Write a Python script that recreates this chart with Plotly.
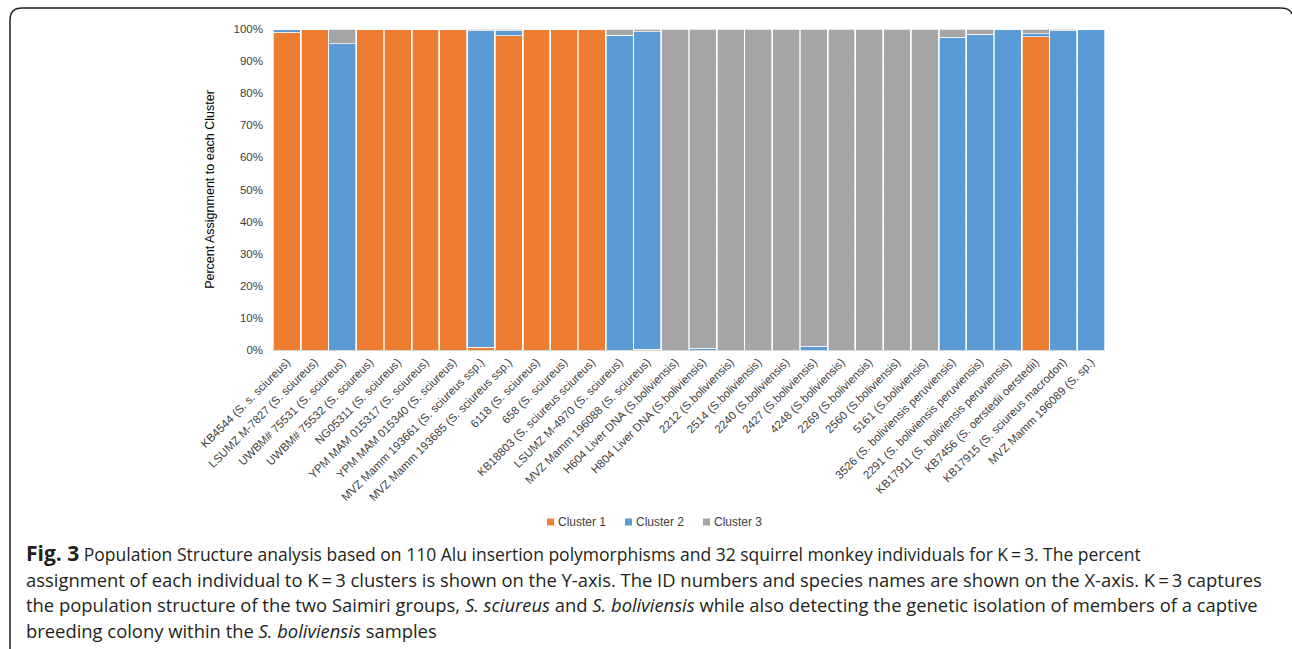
import plotly.graph_objects as go

# Sample IDs (x-axis)
samples = [
    "KB4544 (S. s. sciureus)",
    "LSUMZ M-7827 (S. sciureus)",
    "UWBM# 75531 (S. sciureus)",
    "UWBM# 75532 (S. sciureus)",
    "NG05311 (S. sciureus)",
    "YPM MAM 015317 (S. sciureus)",
    "YPM MAM 015340 (S. sciureus)",
    "MVZ Mamm 193661 (S. sciureus ssp.)",
    "MVZ Mamm 193685 (S. sciureus ssp.)",
    "6118 (S. sciureus)",
    "658 (S. sciureus)",
    "KB18803 (S. sciureus sciureus)",
    "LSUMZ M-4970 (S. sciureus)",
    "MVZ Mamm 196088 (S. sciureus)",
    "H604 Liver DNA (S.boliviensis)",
    "H804 Liver DNA (S.boliviensis)",
    "2212 (S.boliviensis)",
    "2514 (S.boliviensis)",
    "2240 (S.boliviensis)",
    "2427 (S.boliviensis)",
    "4248 (S.boliviensis)",
    "2269 (S.boliviensis)",
    "2560 (S.boliviensis)",
    "5161 (S.boliviensis)",
    "3526 (S. boliviensis peruviensis)",
    "2291 (S. boliviensis peruviensis)",
    "KB17911 (S. boliviensis peruviensis)",
    "KB7456 (S. oerstedii oerstedii)",
    "KB17915 (S. sciureus macrodon)",
    "MVZ Mamm 196089 (S. sp.)",
]

# Percent assignment to each cluster
cluster1 = [99.0, 99.8, 0.0, 100, 100, 100, 100, 0.8, 97.9, 100, 100, 99.7, 0.0, 0.3,
            0, 0, 0, 0, 0, 0, 0, 0, 0, 0, 0, 0, 0, 97.6, 0, 0]
cluster2 = [1.0, 0.2, 95.4, 0, 0, 0, 0, 98.7, 1.6, 0, 0, 0.3, 98.0, 98.9,
            0, 0.5, 0, 0, 0, 1.1, 0, 0, 0, 0, 97.4, 98.3, 100, 0.9, 99.5, 100]
cluster3 = [0, 0, 4.6, 0, 0, 0, 0, 0.5, 0.5, 0, 0, 0, 2.0, 0.8,
            100, 99.5, 100, 100, 100, 98.9, 100, 100, 100, 100, 2.6, 1.7, 0, 1.5, 0.5, 0]

series_names = ["Cluster 1", "Cluster 2", "Cluster 3"]
series_colors = ["#ED7D31", "#5B9BD5", "#A5A5A5"]

caption_lines = [
    "<b><span style=\"font-size:21px\">Fig. 3</span></b> Population Structure analysis based on 110 Alu insertion polymorphisms and 32 squirrel monkey individuals for K\u2009=\u20093. The percent",
    "assignment of each individual to K\u2009=\u20093 clusters is shown on the Y-axis. The ID numbers and species names are shown on the X-axis. K\u2009=\u20093 captures",
    "the population structure of the two Saimiri groups, <i>S. sciureus</i> and <i>S. boliviensis</i> while also detecting the genetic isolation of members of a captive",
    "breeding colony within the <i>S. boliviensis</i> samples",
]
caption_sizes = [17.5, 18.4, 18.4, 18.4]

W, H = 1292, 649
L, R, T, B = 273, 1105, 29, 350


def px_x(px):
    return (px - L) / (R - L)


def px_y(py):
    return (B - py) / (B - T)


fig = go.Figure()
for name, vals, col in zip(series_names, [cluster1, cluster2, cluster3], series_colors):
    fig.add_trace(go.Bar(
        x=samples, y=vals, name=name, showlegend=False,
        marker=dict(color=col, line=dict(color="white", width=0.7)),
    ))

font_chart = "Liberation Sans, Arial, sans-serif"

fig.update_layout(
    barmode="stack",
    bargap=0.03,
    width=W, height=H,
    margin=dict(l=L, r=W - R, t=T, b=H - B, autoexpand=False),
    paper_bgcolor="white",
    plot_bgcolor="white",
    font=dict(family=font_chart, color="#404040"),
    xaxis=dict(
        tickangle=-45, tickfont=dict(size=11.5, color="#404040"),
        showline=True, linecolor="#D9D9D9", linewidth=1,
        ticks="", showgrid=False,
    ),
    yaxis=dict(
        range=[0, 100], dtick=10, ticksuffix="%",
        tickfont=dict(size=11.5, color="#404040"),
        ticklabelstandoff=9,
        showgrid=True, gridcolor="#D9D9D9", gridwidth=1,
        zeroline=False, showline=False, ticks="",
        title=dict(text="Percent Assignment to each Cluster",
                   font=dict(size=12.5, color="#000000"), standoff=16),
    ),
)

# Legend below the axis labels: small colour squares with names
legend_x = [547, 625, 703]
legend_y = 522
for name, col, lx in zip(series_names, series_colors, legend_x):
    fig.add_shape(type="rect", xref="paper", yref="paper",
                  x0=px_x(lx), x1=px_x(lx + 7), y0=px_y(legend_y + 3.5), y1=px_y(legend_y - 3.5),
                  fillcolor=col, line=dict(width=0))
    fig.add_annotation(text=name, xref="paper", yref="paper",
                       x=px_x(lx + 9), y=px_y(legend_y), xanchor="left", yanchor="middle",
                       showarrow=False, font=dict(size=12, color="#404040", family=font_chart))

# Caption below the chart
cap_y = [553, 579, 604, 630]
for line, yy, fs in zip(caption_lines, cap_y, caption_sizes):
    fig.add_annotation(
        text=line, xref="paper", yref="paper",
        x=px_x(24), y=px_y(yy), xanchor="left", yanchor="middle",
        showarrow=False, align="left",
        font=dict(family="Open Sans, sans-serif", size=fs, color="#231F20"),
    )

# Frame around the figure: left and top edges with rounded corners
x0, y0, y1 = 10, 8, 649
r = 12
path = (
    f"M {px_x(x0)},{px_y(y1)} "
    f"L {px_x(x0)},{px_y(y0 + r)} "
    f"Q {px_x(x0)},{px_y(y0)} {px_x(x0 + r)},{px_y(y0)} "
    f"L {px_x(1280)},{px_y(y0)} "
    f"Q {px_x(1290)},{px_y(y0)} {px_x(1292)},{px_y(y0 + 6)}"
)
fig.add_shape(type="path", path=path, xref="paper", yref="paper",
              line=dict(color="#222222", width=1.5))

fig.write_html("out.html")
